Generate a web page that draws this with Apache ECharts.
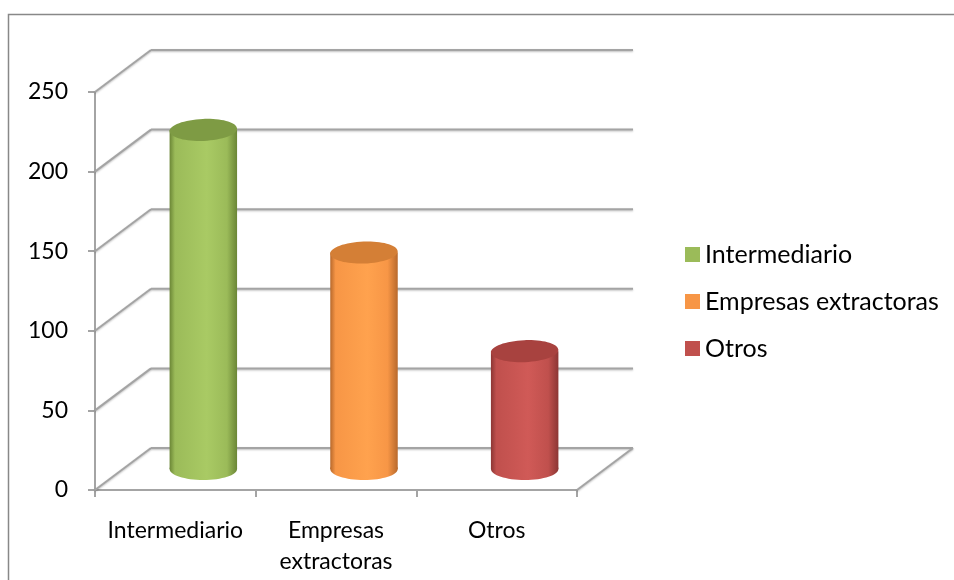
<!DOCTYPE html>
<html>
<head>
<meta charset="utf-8">
<script src="https://cdn.jsdelivr.net/npm/echarts@6/dist/echarts.min.js"></script>
<style>
  html, body { margin: 0; padding: 0; background: #fff; }
  #chart { width: 954px; height: 580px; }
</style>
</head>
<body>
<div id="chart"></div>
<script>
// Categories and their values
const categories = ['Intermediario', 'Empresas extractoras', 'Otros'];
const values = [213, 136, 74];
const yTicks = [0, 50, 100, 150, 200, 250];

// Base, highlight, shade and cap colours for each cylinder
const baseColors = ['#9bbb59', '#f79646', '#c0504d'];
const lightColors = ['#a9ca64', '#ffa24e', '#d05a57'];
const darkColors = ['#6b8636', '#b8692c', '#8c3634'];
const capColors = ['#7e9b44', '#d47f36', '#a8423f'];

// Depth offset of the back wall (pseudo 3D)
const DEPTH_X = 56;
const DEPTH_Y = -42;
const GRID_COLOR = '#a4a4a4';

const chart = echarts.init(document.getElementById('chart'));

function wallItem(params, api) {
  const v = api.value(0);
  const cs = params.coordSys;
  const y = api.coord([0, v])[1];
  const x0 = cs.x;
  const x1 = cs.x + cs.width;
  const style = { stroke: GRID_COLOR, lineWidth: 2, shadowBlur: 2, shadowColor: 'rgba(0,0,0,0.25)', shadowOffsetY: 1 };
  const children = [
    { type: 'line', shape: { x1: x0, y1: y, x2: x0 + DEPTH_X, y2: y + DEPTH_Y }, style },
    { type: 'line', shape: { x1: x0 + DEPTH_X, y1: y + DEPTH_Y, x2: x1 + DEPTH_X, y2: y + DEPTH_Y }, style }
  ];
  if (v === 0) {
    children.push({ type: 'line', shape: { x1: x1, y1: y, x2: x1 + DEPTH_X, y2: y + DEPTH_Y }, style });
  }
  return { type: 'group', children };
}

function cylinderItem(idx) {
  return function (params, api) {
    const cat = api.value(0);
    const val = api.value(1);
    const base = api.coord([cat, 0]);
    const top = api.coord([cat, val]);
    const cx = base[0] + DEPTH_X / 2;
    const by = base[1] + DEPTH_Y / 2;
    const ty = top[1] + DEPTH_Y / 2;
    const rx = api.size([1, 0])[0] * 0.21;
    const ry = 11;
    const bodyFill = new echarts.graphic.LinearGradient(0, 0, 1, 0, [
      { offset: 0, color: darkColors[idx] },
      { offset: 0.08, color: baseColors[idx] },
      { offset: 0.55, color: lightColors[idx] },
      { offset: 0.85, color: baseColors[idx] },
      { offset: 1, color: darkColors[idx] }
    ]);
    return {
      type: 'group',
      children: [
        { type: 'ellipse', shape: { cx: cx, cy: by, rx: rx, ry: ry }, style: { fill: bodyFill } },
        { type: 'rect', shape: { x: cx - rx, y: ty, width: rx * 2, height: by - ty }, style: { fill: bodyFill } },
        { type: 'ellipse', shape: { cx: cx, cy: ty, rx: rx, ry: ry }, rotation: 0.04, originX: cx, originY: ty, style: { fill: capColors[idx] } }
      ]
    };
  };
}

const cylinderSeries = categories.map(function (name, i) {
  return {
    name: name,
    type: 'custom',
    z: 3,
    color: baseColors[i],
    renderItem: cylinderItem(i),
    encode: { x: 0, y: 1 },
    data: [[i, values[i]]]
  };
});

chart.setOption({
  animation: false,
  graphic: [{
    type: 'rect',
    left: 6, top: 12,
    shape: { width: 1000, height: 1000 },
    style: { fill: 'none', stroke: '#888888', lineWidth: 1.5 },
    z: 0
  }],
  grid: { left: 95, right: 377, top: 92, bottom: 90 },
  legend: {
    orient: 'vertical',
    left: 680,
    top: 237,
    itemWidth: 15,
    itemHeight: 15,
    itemGap: 22,
    icon: 'rect',
    data: categories,
    textStyle: { fontFamily: 'Lato', fontSize: 25, color: '#000', padding: [0, 0, 0, 0] }
  },
  xAxis: {
    type: 'category',
    data: categories,
    boundaryGap: true,
    axisLine: { show: true, lineStyle: { color: GRID_COLOR, width: 2 } },
    axisTick: { show: true, interval: 0, length: 7, lineStyle: { color: GRID_COLOR, width: 2 } },
    axisLabel: {
      interval: 0,
      hideOverlap: false,
      margin: 25,
      fontFamily: 'Lato',
      fontSize: 23,
      color: '#000',
      lineHeight: 31,
      formatter: function (v) { return v.replace(' ', '\n'); }
    },
    splitLine: { show: false }
  },
  yAxis: {
    type: 'value',
    min: 0,
    max: 250,
    interval: 50,
    axisLine: { show: true, lineStyle: { color: GRID_COLOR, width: 2 } },
    axisTick: { show: true, length: 7, lineStyle: { color: GRID_COLOR, width: 2 } },
    axisLabel: { margin: 27, fontFamily: 'Lato', fontSize: 23, color: '#000' },
    splitLine: { show: false }
  },
  series: [{
    name: 'wall',
    type: 'custom',
    z: 1,
    silent: true,
    renderItem: wallItem,
    encode: { y: 0 },
    data: yTicks.map(function (t) { return [t]; })
  }].concat(cylinderSeries)
});
</script>
</body>
</html>
